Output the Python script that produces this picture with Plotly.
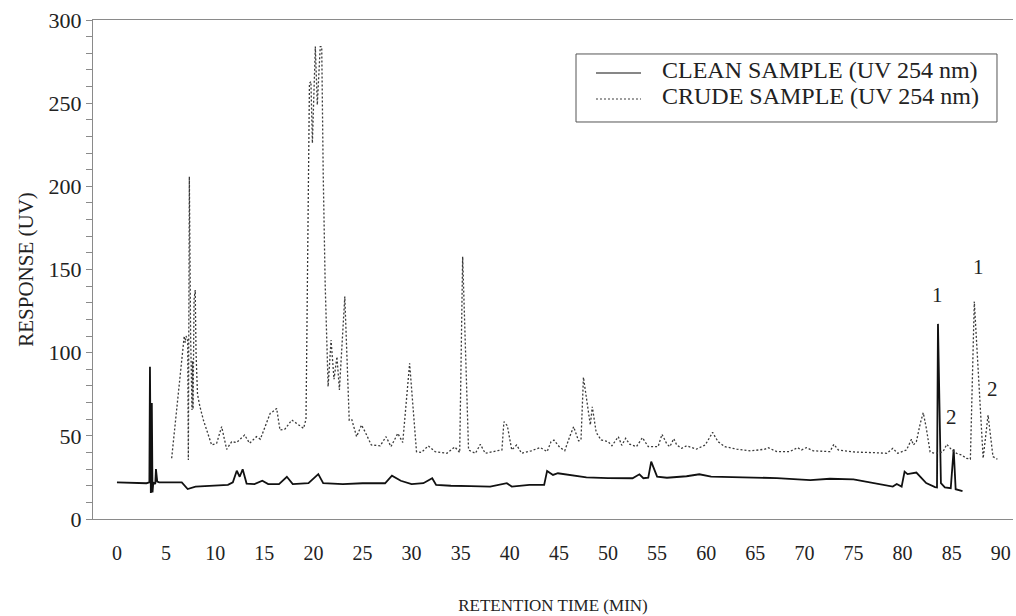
import plotly.graph_objects as go

# ---- data ----
clean_t = [0, 3.0, 3.3, 3.36, 3.45, 3.55, 3.62, 3.7, 3.9, 3.97, 4.1, 4.3, 6.6, 7.2, 8.0, 9.5,
           11.3, 11.8, 12.2, 12.5, 12.8, 13.2, 14.0, 14.8, 15.4, 16.5, 17.3, 17.9, 19.5, 20.5,
           21.0, 23.0, 25.0, 27.3, 28.0, 28.9, 30.0, 31.2, 32.1, 32.5, 34.0, 36.0, 38.0, 39.7,
           40.2, 42.0, 43.5, 43.8, 44.4, 44.9, 45.8, 47.8, 50.0, 52.5, 53.2, 53.6, 54.1, 54.4,
           55.0, 56.0, 58.0, 59.3, 60.5, 63.8, 67.2, 70.6, 72.6, 75.0, 77.0, 79.0, 79.4, 79.9,
           80.2, 80.5, 81.4, 82.4, 83.3, 83.5, 83.6, 83.9, 84.3, 84.9, 85.2, 85.4, 86.1]
clean_v = [22, 21.5, 22, 91.6, 15.6, 69.7, 16, 22, 21, 30, 22.5, 22, 22, 18, 19.5, 19.8,
           20.5, 22, 29, 25.4, 29.9, 21.3, 21, 23, 21, 21, 25.4, 21, 21.5, 27,
           21.5, 21, 21.5, 21.5, 26, 23, 21, 21.5, 24.5, 20.5, 20, 19.8, 19.5, 21.5,
           19.5, 20.5, 20.5, 28.9, 26.5, 27.5, 26.8, 25, 24.6, 24.5, 26.9, 24.5, 24.8, 34.5,
           25.5, 24.8, 25.7, 26.9, 25.5, 25, 24.6, 23.4, 24.2, 23.8, 21.5, 19.5, 21, 19.5,
           28.5, 27, 27.9, 21.6, 19.2, 19, 117.3, 21.5, 19, 18.5, 41.9, 17.9, 16.8]

crude_t = [5.57, 6.75, 6.85, 6.95, 7.03, 7.2, 7.27, 7.37, 7.5, 7.64, 7.7, 7.75, 7.85, 7.97,
           8.05, 8.2, 8.45, 8.8, 9.64, 10.15, 10.66, 11.17, 11.68, 12.19, 13.0, 13.5, 14.2,
           14.6, 15.1, 15.6, 15.85, 16.26, 16.6, 17.1, 17.8, 18.5, 19.0, 19.25, 19.6, 19.75,
           19.9, 20.2, 20.4, 20.7, 20.85, 21.0, 21.2, 21.5, 21.8, 22.1, 22.4, 22.65, 23.2,
           23.65, 23.9, 24.4, 24.9, 25.3, 25.9, 26.8, 27.4, 27.9, 28.6, 29.1, 29.8, 30.5,
           31.0, 31.7, 32.4, 33.6, 34.4, 34.9, 35.2, 35.8, 36.5, 37.0, 37.5, 38.7, 39.2,
           39.4, 39.75, 40.2, 40.7, 41.2, 42.2, 43.1, 43.8, 44.2, 44.5, 45.1, 45.6, 46.1,
           46.5, 47.0, 47.25, 47.5, 47.8, 48.2, 48.4, 48.8, 49.3, 50.0, 50.4, 51.05, 51.4,
           51.8, 52.2, 52.9, 53.5, 54.1, 55.1, 55.5, 56.0, 56.3, 56.7, 57.0, 57.5, 58.0,
           59.0, 59.9, 60.4, 60.65, 61.2, 61.9, 63.1, 64.5, 66.0, 66.3, 67.2, 68.5, 69.3,
           69.7, 70.2, 70.9, 72.6, 73.0, 73.45, 75.0, 77.4, 78.4, 79.0, 79.5, 80.4, 80.9,
           81.1, 81.4, 81.8, 82.1, 82.4, 82.8, 83.3, 84.1, 84.5, 85.0, 85.5, 86.0, 86.5,
           86.9, 87.3, 88.2, 88.7, 89.2, 89.65]
crude_v = [36.5, 107.6, 110, 106, 110, 108, 35.5, 205.8, 110, 65.5, 95, 66, 132, 137.7,
           100, 75, 67.5, 59.5, 44.5, 45.5, 55.5, 41.9, 46.5, 46, 50.5, 45.5, 49.5,
           48, 55.5, 63.5, 64.5, 66.5, 53.5, 54, 59.5, 56.5, 54.5, 60, 262, 263,
           226, 284, 249, 284, 284, 208, 141.7, 79.6, 107.6, 84, 97.6, 77.6, 133.7,
           59.5, 60, 49.5, 56.5, 52, 44.5, 44, 49.5, 43.5, 51.5, 46, 93.6, 40.5,
           40, 44, 40.5, 39.5, 43.3, 40, 157.7, 41.5, 39.5, 44.9, 39.5, 41, 41.5,
           58.5, 56.1, 41.5, 44.5, 39.5, 41, 43, 40.5, 46.5, 47.4, 43, 41.1, 49.5,
           55.5, 47, 47.4, 85.2, 71.6, 56.5, 67.5, 52, 47.5, 46.6, 44, 49.5, 44.3,
           48.5, 45, 43.5, 48.9, 43.5, 43.5, 50.9, 45, 43.5, 48.3, 44.5, 42.5, 44,
           42, 44.5, 49.5, 52.1, 46.5, 43.5, 42, 40.9, 42, 42.9, 40.5, 40.5, 42.9,
           41.5, 42.9, 41, 40.5, 44.9, 41.5, 40.3, 39.8, 39.5, 42.5, 39.5, 41.5, 47.9,
           44.5, 46.5, 57.5, 63.9, 55, 40.3, 39.5, 40.3, 44.9, 41.5, 39.5, 38.5, 36.5,
           36, 130.7, 36.5, 62.5, 37.5, 35.9]

x_ticks = [0, 5, 10, 15, 20, 25, 30, 35, 40, 45, 50, 55, 60, 65, 70, 75, 80, 85, 90]
y_ticks = [0, 50, 100, 150, 200, 250, 300]

series_names = ["CLEAN SAMPLE (UV 254 nm)", "CRUDE SAMPLE (UV 254 nm)"]

peak_labels = ["1", "2", "1", "2"]
peak_label_t = [83.6, 85.0, 87.7, 89.15]
peak_label_v = [134.7, 61.5, 151.7, 78.0]

FONT = "Liberation Serif"
AXIS_GREY = "#8a8a8a"
TEXT = "#222222"
CLEAN_LINE = dict(color="#111111", width=1.8)
CRUDE_LINE = dict(color="#3a3a3a", width=1.3, dash="2px,2px")

fig = go.Figure()
fig.add_trace(go.Scatter(x=clean_t, y=clean_v, mode="lines", name=series_names[0],
                         line=CLEAN_LINE, showlegend=False))
fig.add_trace(go.Scatter(x=crude_t, y=crude_v, mode="lines", name=series_names[1],
                         line=CRUDE_LINE, showlegend=False))

for txt, t, v in zip(peak_labels, peak_label_t, peak_label_v):
    fig.add_annotation(x=t, y=v, text=txt, showarrow=False,
                       font=dict(family=FONT, size=21, color=TEXT))

# ---- hand-built legend box (paper coordinates) ----
fig.add_shape(type="rect", xref="paper", yref="paper",
              x0=0.525, x1=0.9826, y0=0.7956, y1=0.9319,
              line=dict(color="#555555", width=1), fillcolor="white", layer="above")
leg_rows_y = [0.8998, 0.8477]
for name, line_style, ty in zip(series_names, [CLEAN_LINE, CRUDE_LINE], leg_rows_y):
    fig.add_shape(type="line", xref="paper", yref="paper",
                  x0=0.5467, x1=0.5957, y0=ty - 0.006, y1=ty - 0.006,
                  line=dict(color=line_style["color"], width=1.2,
                            dash=line_style.get("dash", "solid")),
                  layer="above")
    fig.add_annotation(xref="paper", yref="paper", x=0.6163, y=ty, text=name,
                       showarrow=False, xanchor="left", yanchor="middle",
                       font=dict(family=FONT, size=24, color=TEXT))

fig.update_layout(
    width=1016, height=616,
    margin=dict(l=93, r=3, t=20, b=97),
    paper_bgcolor="white", plot_bgcolor="white",
    font=dict(family=FONT, color=TEXT),
    showlegend=False,
    xaxis=dict(range=[-2.44, 91.24], tickvals=x_ticks,
               ticktext=[str(v) for v in x_ticks],
               showgrid=False, zeroline=False,
               showline=True, linecolor=AXIS_GREY, linewidth=1, mirror=True,
               ticks="outside", ticklen=16, tickcolor="rgba(0,0,0,0)",
               tickfont=dict(family=FONT, size=20, color=TEXT),
               title=dict(text="RETENTION TIME (MIN)", standoff=36,
                          font=dict(family=FONT, size=17, color=TEXT))),
    yaxis=dict(range=[0, 300], tickvals=y_ticks,
               showgrid=False, zeroline=False,
               showline=True, linecolor=AXIS_GREY, linewidth=1,
               ticks="outside", ticklen=6, tickcolor=AXIS_GREY,
               minor=dict(dtick=10, ticks="outside", ticklen=6, tickcolor=AXIS_GREY),
               tickfont=dict(family=FONT, size=22, color=TEXT),
               title=dict(text="RESPONSE (UV)", standoff=9,
                          font=dict(family=FONT, size=21, color=TEXT))),
)

fig.write_html("out.html")
